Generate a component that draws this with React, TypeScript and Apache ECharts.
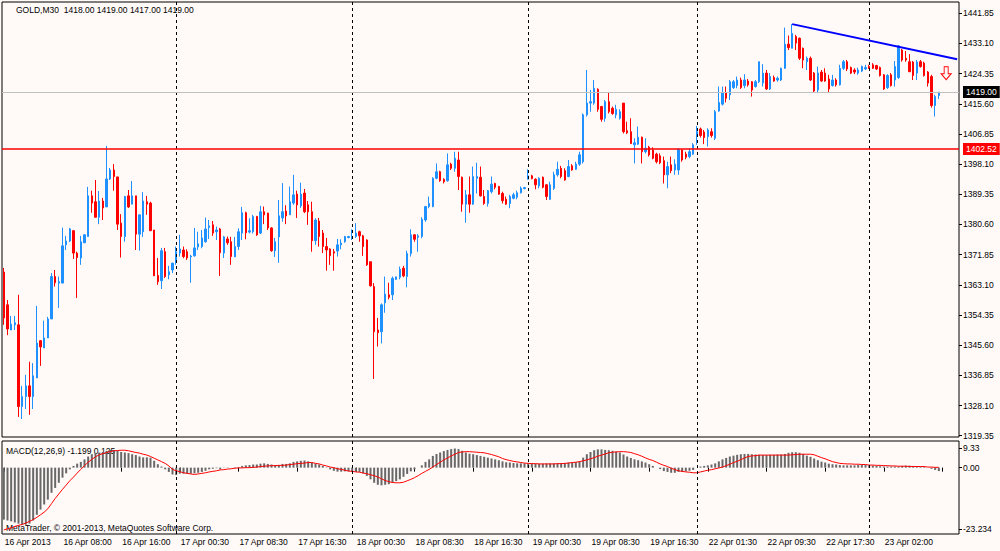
import React, { useEffect, useRef } from "react";
import * as echarts from "echarts";

const FONT = "'Liberation Sans', Arial, sans-serif";
const FS = 8.5;

const symbolName = "GOLD,M30";
const timeLabels = [
  "16 Apr 2013", "16 Apr 08:00", "16 Apr 16:00", "17 Apr 00:30", "17 Apr 08:30", "17 Apr 16:30",
  "18 Apr 00:30", "18 Apr 08:30", "18 Apr 16:30", "19 Apr 00:30", "19 Apr 08:30", "19 Apr 16:30",
  "22 Apr 01:30", "22 Apr 09:30", "22 Apr 17:30", "23 Apr 02:00",
];
const labelEvery = 16;
const priceTicks = [
  1319.35, 1328.1, 1336.85, 1345.6, 1354.35, 1363.1, 1371.85, 1380.6, 1389.35, 1398.1,
  1406.85, 1415.6, 1424.35, 1433.1, 1441.85,
];
const macdTickLabels = ["9.33", "0.00", "-23.234"];
const macdTickPositions = [6.85, 0, -21.46];
const separators = [47, 95, 143, 189, 236];
const bidPrice = 1419.0;
const levelPrice = 1402.52;
const trendStart = [215, 1438.7];
const trendEnd = [260, 1428.5];
const arrowAt = [257, 1424.45];
const SLOTS = 261;

// [open, close, low, high]
const candles: number[][] = [
  [1366.8,1353.5,1351.5,1368.0],[1357.3,1350.3,1348.5,1358.7],[1350.0,1351.7,1350.0,1354.1],[1351.5,1352.1,1350.0,1354.1],
  [1351.5,1327.8,1324.8,1360.2],[1327.8,1330.7,1324.2,1333.8],[1330.7,1333.8,1327.1,1337.0],[1333.8,1330.7,1325.4,1340.8],
  [1330.7,1336.7,1327.1,1340.4],[1336.1,1346.2,1336.1,1357.0],[1346.9,1345.1,1339.6,1347.1],[1344.8,1347.7,1344.8,1352.7],
  [1347.7,1353.2,1347.7,1353.8],[1353.2,1365.5,1353.2,1366.5],[1365.5,1363.7,1362.6,1367.4],[1363.6,1364.0,1356.4,1365.5],
  [1363.6,1374.4,1363.6,1379.7],[1374.7,1375.8,1373.2,1377.3],[1375.8,1379.3,1375.5,1379.6],[1378.8,1372.3,1370.6,1379.0],
  [1372.3,1371.0,1359.3,1372.7],[1370.9,1375.6,1368.9,1377.3],[1375.3,1377.6,1375.2,1377.8],[1377.1,1388.9,1377.1,1391.5],
  [1388.9,1386.8,1384.0,1390.4],[1387.2,1382.7,1382.7,1393.5],[1382.7,1387.4,1380.7,1390.3],[1387.4,1385.4,1381.9,1388.3],
  [1385.7,1393.8,1385.7,1403.4],[1393.8,1396.4,1393.5,1397.0],[1396.4,1394.5,1390.4,1398.1],[1394.4,1380.7,1379.0,1394.4],
  [1381.0,1377.1,1371.0,1383.6],[1377.1,1388.7,1375.6,1388.9],[1388.9,1385.7,1385.4,1390.6],[1386.5,1388.9,1386.5,1393.2],
  [1388.9,1377.8,1373.2,1388.9],[1377.8,1383.4,1373.0,1383.4],[1378.5,1387.4,1377.0,1390.0],[1387.2,1386.5,1383.4,1388.9],
  [1386.8,1378.8,1378.8,1387.2],[1379.0,1365.7,1365.7,1379.0],[1365.8,1364.0,1363.1,1370.9],[1364.3,1373.0,1361.9,1373.8],
  [1372.7,1365.5,1365.1,1373.8],[1366.0,1366.9,1364.7,1368.6],[1367.4,1369.4,1366.5,1369.4],[1370.3,1372.7,1368.9,1374.2],
  [1372.3,1373.5,1371.3,1377.6],[1373.2,1371.3,1370.8,1374.2],[1372.7,1370.9,1370.3,1373.4],[1371.2,1371.4,1363.7,1371.8],
  [1371.5,1373.8,1371.3,1379.6],[1374.1,1375.0,1373.2,1378.5],[1374.2,1376.7,1373.7,1379.0],[1375.6,1379.3,1375.3,1382.6],
  [1379.7,1380.2,1376.4,1381.9],[1380.5,1378.1,1377.3,1381.6],[1378.5,1379.0,1376.1,1380.0],[1379.3,1372.4,1365.7,1379.6],
  [1372.3,1377.0,1370.9,1377.3],[1376.4,1375.3,1374.7,1377.1],[1375.6,1371.3,1368.9,1377.0],[1371.2,1374.2,1371.2,1377.0],
  [1374.2,1378.5,1373.2,1379.5],[1378.1,1384.0,1376.1,1385.7],[1384.0,1378.2,1376.3,1384.3],[1378.4,1378.8,1378.0,1382.4],
  [1378.5,1382.9,1378.0,1383.4],[1382.9,1377.6,1377.3,1383.1],[1378.1,1384.3,1377.8,1386.0],[1384.3,1383.4,1380.7,1385.8],
  [1383.9,1379.6,1379.0,1384.0],[1379.6,1373.0,1372.7,1379.8],[1373.0,1375.6,1371.2,1376.7],[1377.0,1383.1,1369.5,1387.7],
  [1382.5,1384.3,1381.4,1392.6],[1384.5,1383.1,1380.7,1386.2],[1383.4,1387.2,1383.4,1391.6],[1386.8,1389.2,1386.3,1395.0],
  [1389.4,1386.3,1382.5,1390.4],[1386.0,1389.4,1385.4,1392.7],[1389.7,1384.3,1383.9,1390.9],[1386.3,1384.3,1380.5,1387.4],
  [1384.3,1375.9,1372.7,1387.2],[1375.9,1381.9,1374.7,1382.4],[1381.6,1377.1,1374.2,1382.5],[1378.1,1374.2,1372.3,1379.0],
  [1374.2,1373.2,1367.2,1376.7],[1373.5,1371.5,1368.9,1373.7],[1372.7,1372.3,1367.2,1373.5],[1372.9,1374.7,1371.3,1376.4],
  [1374.7,1375.2,1373.4,1376.3],[1375.6,1377.1,1375.3,1377.3],[1376.8,1377.1,1376.6,1377.3],[1376.6,1377.1,1376.1,1379.2],
  [1377.1,1378.1,1376.7,1381.0],[1378.5,1377.3,1375.6,1378.8],[1377.3,1374.2,1371.5,1377.6],[1376.1,1368.9,1368.6,1376.3],
  [1369.8,1362.8,1362.6,1369.8],[1362.6,1349.5,1335.8,1363.6],[1350.0,1349.2,1345.2,1353.5],[1349.5,1357.3,1346.1,1357.7],
  [1357.9,1360.4,1355.0,1365.5],[1360.2,1359.5,1358.9,1363.7],[1360.2,1365.0,1358.7,1365.5],[1364.7,1365.4,1364.5,1365.5],
  [1365.3,1367.6,1364.7,1368.4],[1367.9,1365.7,1365.3,1368.6],[1365.5,1372.2,1362.4,1373.0],[1372.2,1377.6,1371.3,1379.2],
  [1377.6,1376.3,1375.6,1377.8],[1376.9,1377.3,1372.7,1377.8],[1377.1,1382.1,1376.6,1382.7],[1381.9,1385.8,1381.4,1386.0],
  [1385.8,1386.7,1385.3,1388.7],[1385.8,1394.0,1385.6,1394.3],[1394.0,1395.9,1393.7,1398.3],[1395.9,1393.3,1393.0,1396.2],
  [1393.7,1393.0,1392.5,1394.0],[1393.3,1397.9,1393.0,1401.2],[1398.1,1396.9,1396.4,1398.5],[1396.9,1399.8,1395.9,1401.7],
  [1399.3,1394.5,1390.6,1401.7],[1394.3,1386.5,1384.3,1394.5],[1386.5,1389.2,1381.1,1390.6],[1389.2,1386.5,1384.0,1394.5],
  [1386.5,1394.5,1386.3,1397.4],[1394.0,1394.5,1389.6,1398.5],[1394.3,1388.9,1388.7,1397.4],[1388.7,1386.7,1386.3,1390.6],
  [1386.7,1390.4,1385.8,1390.6],[1390.1,1392.3,1389.6,1394.5],[1392.5,1391.4,1390.8,1392.7],[1391.6,1389.4,1389.2,1391.8],
  [1389.6,1387.5,1386.7,1390.1],[1387.9,1386.5,1386.3,1388.7],[1386.7,1388.7,1385.3,1389.2],[1388.2,1389.2,1387.9,1389.8],
  [1388.5,1389.8,1387.9,1390.4],[1389.8,1391.1,1389.6,1391.6],[1391.0,1391.3,1390.8,1391.5],[1393.7,1394.7,1393.7,1396.6],
  [1394.7,1393.9,1393.7,1395.0],[1393.7,1392.1,1390.8,1394.0],[1391.8,1394.0,1391.1,1394.3],[1394.3,1391.4,1391.1,1394.5],
  [1392.1,1388.7,1387.7,1392.3],[1387.9,1392.1,1387.7,1393.0],[1391.1,1395.0,1390.6,1395.9],[1395.0,1396.6,1394.5,1398.8],
  [1396.9,1394.5,1394.0,1397.6],[1396.2,1393.5,1393.3,1396.9],[1394.5,1397.4,1394.3,1399.3],[1397.6,1396.4,1396.2,1398.1],
  [1396.6,1398.1,1396.4,1398.8],[1398.1,1400.8,1397.6,1401.7],[1398.8,1412.4,1398.3,1412.8],[1412.4,1415.8,1411.9,1425.4],
  [1415.8,1416.2,1413.3,1419.6],[1415.8,1420.1,1415.3,1422.5],[1419.8,1414.0,1413.3,1420.1],[1414.8,1411.1,1410.4,1415.0],
  [1411.4,1416.2,1410.4,1416.7],[1416.2,1413.3,1412.8,1418.8],[1414.3,1412.8,1412.4,1414.8],[1412.4,1414.0,1411.4,1415.3],
  [1411.4,1413.3,1411.0,1414.0],[1415.8,1407.5,1407.0,1415.8],[1407.8,1407.2,1406.8,1410.4],[1407.5,1404.1,1403.9,1411.4],
  [1403.7,1404.3,1398.3,1405.6],[1403.9,1405.9,1403.7,1409.0],[1405.9,1401.7,1398.3,1406.1],[1401.7,1402.7,1401.2,1405.6],
  [1403.0,1400.8,1400.3,1403.4],[1402.2,1399.8,1399.5,1403.0],[1401.0,1398.8,1398.3,1401.4],[1400.5,1398.5,1398.1,1401.2],
  [1399.1,1395.0,1392.5,1400.3],[1395.0,1397.4,1391.1,1398.8],[1397.9,1396.2,1395.5,1400.3],[1396.4,1398.1,1395.0,1399.5],
  [1396.4,1402.4,1395.0,1402.7],[1402.2,1399.3,1398.8,1402.4],[1401.0,1400.1,1399.5,1401.7],[1400.3,1401.7,1399.8,1402.7],
  [1401.0,1403.7,1400.8,1404.2],[1406.6,1407.5,1403.7,1409.2],[1408.3,1406.4,1405.8,1408.7],[1407.4,1405.8,1403.9,1408.0],
  [1406.1,1408.0,1403.2,1408.5],[1407.5,1406.4,1405.8,1408.5],[1405.6,1413.3,1405.1,1413.8],[1413.5,1416.0,1413.3,1420.6],
  [1415.5,1418.9,1415.1,1420.6],[1418.9,1417.2,1416.0,1420.6],[1418.2,1422.0,1416.7,1422.5],[1420.3,1422.0,1419.9,1422.5],
  [1420.9,1422.5,1420.1,1423.5],[1422.5,1420.3,1419.9,1423.2],[1420.9,1422.5,1420.1,1424.2],[1422.2,1421.1,1420.6,1422.8],
  [1422.0,1419.6,1417.7,1422.2],[1420.6,1422.0,1420.3,1422.5],[1422.0,1427.8,1421.6,1427.8],[1421.6,1424.5,1420.6,1427.1],
  [1424.5,1419.9,1419.6,1425.4],[1419.9,1423.5,1419.6,1424.5],[1423.2,1422.2,1422.0,1423.8],[1422.5,1423.0,1422.0,1423.5],
  [1422.5,1425.9,1422.2,1426.1],[1425.9,1432.9,1425.7,1437.7],[1432.9,1431.9,1431.2,1435.4],[1431.7,1436.0,1431.7,1438.7],
  [1435.1,1433.2,1431.2,1435.6],[1434.6,1428.8,1428.3,1434.8],[1431.7,1428.3,1425.9,1431.9],[1427.8,1428.8,1425.4,1429.3],
  [1428.8,1422.5,1422.2,1429.3],[1424.5,1419.3,1418.9,1424.8],[1419.6,1424.5,1418.7,1426.4],[1424.8,1422.2,1422.0,1425.4],
  [1424.5,1422.2,1422.0,1425.9],[1422.8,1419.9,1419.0,1424.0],[1420.9,1422.5,1420.6,1424.0],[1422.5,1421.1,1420.6,1423.0],
  [1421.1,1425.9,1420.9,1426.9],[1425.9,1427.8,1425.4,1428.3],[1427.8,1425.7,1425.1,1428.3],[1426.1,1424.5,1424.2,1426.4],
  [1425.4,1424.8,1424.2,1425.9],[1424.5,1425.4,1424.0,1426.1],[1425.1,1426.4,1424.8,1426.7],[1425.7,1426.1,1425.4,1426.9],
  [1426.4,1425.9,1425.7,1426.9],[1426.9,1425.9,1425.7,1427.4],[1426.7,1425.7,1425.4,1426.9],[1426.1,1423.8,1423.5,1426.4],
  [1424.0,1419.9,1419.6,1424.2],[1420.3,1423.8,1419.9,1424.2],[1424.0,1420.9,1420.6,1424.5],[1422.5,1426.4,1420.6,1428.0],
  [1423.2,1432.4,1422.8,1432.6],[1431.2,1428.3,1427.8,1431.5],[1428.8,1428.3,1427.8,1430.9],[1427.8,1424.9,1424.8,1430.0],
  [1427.7,1423.8,1422.5,1428.0],[1424.5,1427.7,1422.5,1428.3],[1427.8,1426.4,1426.1,1428.3],[1427.4,1423.8,1423.5,1427.8],
  [1424.8,1421.6,1420.6,1425.1],[1423.5,1415.1,1414.5,1424.0],[1415.1,1417.7,1411.9,1418.2],[1418.0,1419.0,1417.0,1419.0],
];

const macdHist = [
  -18.2,-18.5,-18.8,-19.2,-19.6,-20.0,-20.0,-19.6,-18.5,-16.5,-14.7,-12.9,-11.2,-8.8,-7.1,-5.3,
  -3.5,-2.0,-0.6,0.6,1.4,2.0,2.9,3.9,4.7,5.1,5.3,5.5,5.9,6.2,6.2,6.0,
  5.5,5.3,5.1,4.7,4.4,3.9,3.6,3.6,3.5,2.4,1.2,0.4,-0.6,-1.5,-2.4,-2.6,
  -2.1,-2.1,-2.1,-2.1,-2.0,-1.8,-1.5,-1.1,-0.6,-0.4,-0.2,-0.6,-0.1,0.1,0.0,-0.2,
  0.2,0.6,0.8,0.9,1.1,1.1,1.4,1.5,1.3,1.1,0.9,0.9,1.3,1.3,1.5,2.0,
  2.2,2.4,2.5,2.2,1.8,1.4,1.1,0.6,-0.1,-0.6,-1.1,-1.4,-1.4,-1.3,-1.3,-1.5,
  -1.4,-1.5,-2.0,-2.9,-4.1,-5.3,-6.0,-6.2,-6.0,-5.8,-5.3,-4.7,-4.1,-3.2,-2.2,-1.3,
  -0.6,0.0,0.8,2.0,2.9,4.1,4.8,5.3,5.8,6.2,6.5,6.7,6.5,5.9,5.3,4.9,
  4.7,4.4,4.1,3.8,3.5,3.2,2.9,2.6,2.2,1.9,1.8,1.6,1.5,1.5,1.5,1.5,
  1.5,1.4,1.4,1.4,1.5,1.5,1.5,1.5,1.6,1.6,1.8,1.8,1.9,2.2,3.5,4.7,
  5.5,6.1,6.4,6.4,6.2,6.1,5.9,5.6,5.3,4.6,3.9,3.4,2.9,2.6,2.2,1.8,
  1.2,0.6,0.0,-0.5,-1.2,-1.5,-1.8,-1.8,-1.5,-1.5,-1.3,-1.1,-0.8,0.0,0.4,0.6,
  0.8,1.1,1.5,2.2,2.9,3.4,3.9,4.2,4.5,4.7,4.8,4.8,4.7,4.6,4.5,4.4,
  4.4,4.5,4.5,4.6,4.6,4.8,5.2,5.4,5.4,5.2,4.8,4.2,3.8,3.2,2.6,2.1,
  1.8,1.4,1.2,1.1,0.9,0.8,0.8,0.8,0.8,0.9,0.9,0.9,0.8,0.7,0.6,0.5,
  0.4,0.4,0.4,0.4,0.4,0.6,0.7,0.7,0.6,0.5,0.4,0.2,0.0,-0.4,-0.8,-1.199,
];

const macdSignal = [
  -21.8,-21.4,-21.1,-20.6,-20.2,-19.9,-19.4,-18.8,-18.2,-17.4,-16.5,-15.6,-14.4,-12.6,-10.8,-9.2,
  -7.6,-6.1,-4.6,-3.3,-1.9,-0.6,0.7,1.9,2.9,3.8,4.5,4.9,5.3,5.6,5.9,6.0,
  6.1,6.1,5.9,5.6,5.3,5.1,4.7,4.4,3.9,3.3,2.7,2.1,1.5,0.6,-0.6,-1.1,
  -1.4,-1.8,-2.0,-2.2,-2.4,-2.2,-2.0,-1.8,-1.5,-1.3,-1.1,-0.8,-0.7,-0.5,-0.4,-0.2,
  -0.1,-0.1,0.0,0.0,0.1,0.2,0.4,0.5,0.6,0.7,0.7,0.8,0.8,0.9,1.1,1.2,
  1.4,1.5,1.6,1.8,1.8,1.5,1.3,0.9,0.6,0.2,0.0,-0.4,-0.6,-0.9,-1.2,-1.3,
  -1.5,-1.6,-1.9,-2.1,-2.5,-2.8,-3.3,-3.9,-4.5,-4.9,-5.2,-5.3,-5.3,-5.1,-4.6,-4.1,
  -3.5,-2.8,-2.0,-1.3,-0.6,0.2,1.1,1.9,2.7,3.4,4.1,4.7,5.3,5.5,5.6,5.6,
  5.5,5.4,5.3,5.2,4.9,4.6,4.2,3.8,3.2,2.8,2.5,2.2,2.0,1.8,1.6,1.5,
  1.4,1.4,1.3,1.3,1.3,1.3,1.3,1.4,1.4,1.5,1.6,1.8,1.9,2.1,2.4,2.7,
  3.1,3.5,4.0,4.4,4.8,5.2,5.4,5.5,5.6,5.6,5.5,5.3,4.9,4.5,4.0,3.4,
  2.9,2.5,1.9,1.3,0.8,0.4,-0.2,-0.7,-1.1,-1.3,-1.5,-1.6,-1.8,-1.8,-1.5,-1.2,
  -0.9,-0.7,-0.4,-0.1,0.2,0.7,1.2,1.8,2.2,2.8,3.4,3.9,4.1,4.2,4.4,4.4,
  4.4,4.4,4.4,4.4,4.4,4.4,4.4,4.5,4.6,4.7,4.7,4.7,4.7,4.5,4.0,3.5,
  3.1,2.6,2.1,1.8,1.5,1.4,1.3,1.3,1.2,1.2,1.1,1.1,0.9,0.9,0.8,0.8,
  0.7,0.7,0.6,0.6,0.5,0.5,0.5,0.4,0.4,0.4,0.4,0.4,0.2,0.2,0.1,0.125,
];

const categories = Array.from({ length: SLOTS }, (_, i) => String(i));
const last = candles[candles.length - 1];
const titleText = `${symbolName}  ${last[0].toFixed(2)} ${last[3].toFixed(2)} ${last[2].toFixed(2)} ${last[1].toFixed(2)}`;
const macdText = `MACD(12,26,9) ${macdHist[macdHist.length - 1].toFixed(3)} ${macdSignal[macdSignal.length - 1].toFixed(3)}`;

const textStyle = { fontSize: FS, fontFamily: FONT, color: "#000" };
const sepLines = separators.map((s) => ({
  xAxis: s,
  lineStyle: { type: [3, 3], color: "#000", width: 1 },
  label: { show: false },
}));

function buildOption(): any {
  return {
    animation: false,
    backgroundColor: "transparent",
    grid: [
      { left: 2, top: 2, width: 957, height: 435, show: true, borderColor: "#000", borderWidth: 1, backgroundColor: "transparent" },
      { left: 2, top: 441, width: 957, height: 93, show: true, borderColor: "#000", borderWidth: 1, backgroundColor: "transparent" },
    ],
    xAxis: [
      {
        type: "category", gridIndex: 0, data: categories, boundaryGap: true,
        axisLine: { show: false }, axisTick: { show: false }, axisLabel: { show: false }, splitLine: { show: false },
      },
      {
        type: "category", gridIndex: 1, data: categories, boundaryGap: true,
        axisLine: { show: false },
        axisTick: {
          show: true, alignWithLabel: true, length: 4,
          interval: (i: number) => i % labelEvery === 0,
          lineStyle: { color: "#000", width: 1 },
        },
        axisLabel: {
          ...textStyle,
          interval: (i: number) => i % labelEvery === 0,
          formatter: (_v: string, i: number) => (i % labelEvery === 0 ? timeLabels[i / labelEvery] || "" : ""),
          align: "left", margin: 3, padding: [0, 0, 0, 1],
        },
        splitLine: { show: false },
      },
    ],
    yAxis: [
      {
        type: "value", gridIndex: 0, position: "right", min: 1318.97, max: 1445.12, scale: true,
        splitLine: { show: false }, axisLine: { show: false },
        axisTick: { show: true, length: 3, customValues: priceTicks, lineStyle: { color: "#000" } },
        axisLabel: { ...textStyle, customValues: priceTicks, formatter: (v: number) => v.toFixed(2), margin: 4 },
      },
      {
        type: "value", gridIndex: 1, position: "right", min: -23.234, max: 9.33, scale: true,
        splitLine: { show: false }, axisLine: { show: false },
        axisTick: { show: true, length: 3, customValues: macdTickPositions, lineStyle: { color: "#000" } },
        axisLabel: {
          ...textStyle, customValues: macdTickPositions, margin: 4,
          formatter: (v: number) => {
            const k = macdTickPositions.findIndex((p) => Math.abs(p - v) < 0.01);
            return k >= 0 ? macdTickLabels[k] : "";
          },
        },
      },
    ],
    series: [
      {
        type: "candlestick", xAxisIndex: 0, yAxisIndex: 0, data: candles, barWidth: 2,
        itemStyle: { color: "#1E90FF", color0: "#FF0000", borderColor: "#1E90FF", borderColor0: "#FF0000", borderWidth: 1 },
        markLine: {
          silent: true, animation: false, symbol: ["none", "none"],
          data: [
            ...sepLines,
            {
              yAxis: bidPrice,
              lineStyle: { color: "#C0C0C0", type: "solid", width: 1 },
              label: {
                show: true, position: "end", formatter: bidPrice.toFixed(2), distance: 4,
                backgroundColor: "#000", color: "#fff", padding: [2, 3, 1, 3], fontSize: FS, fontFamily: FONT,
              },
            },
            {
              yAxis: levelPrice,
              lineStyle: { color: "#FF0000", type: "solid", width: 1.5 },
              label: {
                show: true, position: "end", formatter: levelPrice.toFixed(2), distance: 4,
                backgroundColor: "#FF0000", color: "#fff", padding: [2, 3, 1, 3], fontSize: FS, fontFamily: FONT,
              },
            },
            [
              { coord: trendStart, lineStyle: { color: "#0000FF", width: 2, type: "solid" }, label: { show: false } },
              { coord: trendEnd },
            ],
          ],
        },
        markPoint: {
          silent: true, animation: false,
          label: { show: false },
          data: [
            {
              coord: arrowAt,
              symbol: "path://M3,0 L7,0 L7,7 L10,7 L5,13 L0,7 L3,7 Z",
              symbolSize: [10, 13],
              itemStyle: { color: "rgba(255,255,255,0)", borderColor: "#FF0000", borderWidth: 1 },
            },
          ],
        },
      },
      {
        type: "bar", xAxisIndex: 1, yAxisIndex: 1, data: macdHist, barWidth: 2,
        itemStyle: { color: "#686868" },
        markLine: { silent: true, animation: false, symbol: ["none", "none"], data: sepLines },
      },
      {
        type: "line", xAxisIndex: 1, yAxisIndex: 1, data: macdSignal, symbol: "none",
        lineStyle: { color: "#FF0000", width: 1 },
      },
    ],
    graphic: [
      { type: "text", left: 16, top: 5, style: { text: titleText, fontSize: FS, fontFamily: FONT, fill: "#000" } },
      { type: "text", left: 6, top: 446, style: { text: macdText, fontSize: FS, fontFamily: FONT, fill: "#000" } },
      { type: "text", left: 6, top: 523, style: { text: "MetaTrader, © 2001-2013, MetaQuotes Software Corp.", fontSize: FS, fontFamily: FONT, fill: "#000" } },
    ],
  };
}

export default function App() {
  const ref = useRef<HTMLDivElement>(null);
  useEffect(() => {
    document.body.style.margin = "0";
    const chart = echarts.init(ref.current!, null, { renderer: "svg" });
    chart.setOption(buildOption());
    return () => chart.dispose();
  }, []);
  return <div ref={ref} style={{ width: 1000, height: 551, background: "#FFFAF8" }} />;
}
